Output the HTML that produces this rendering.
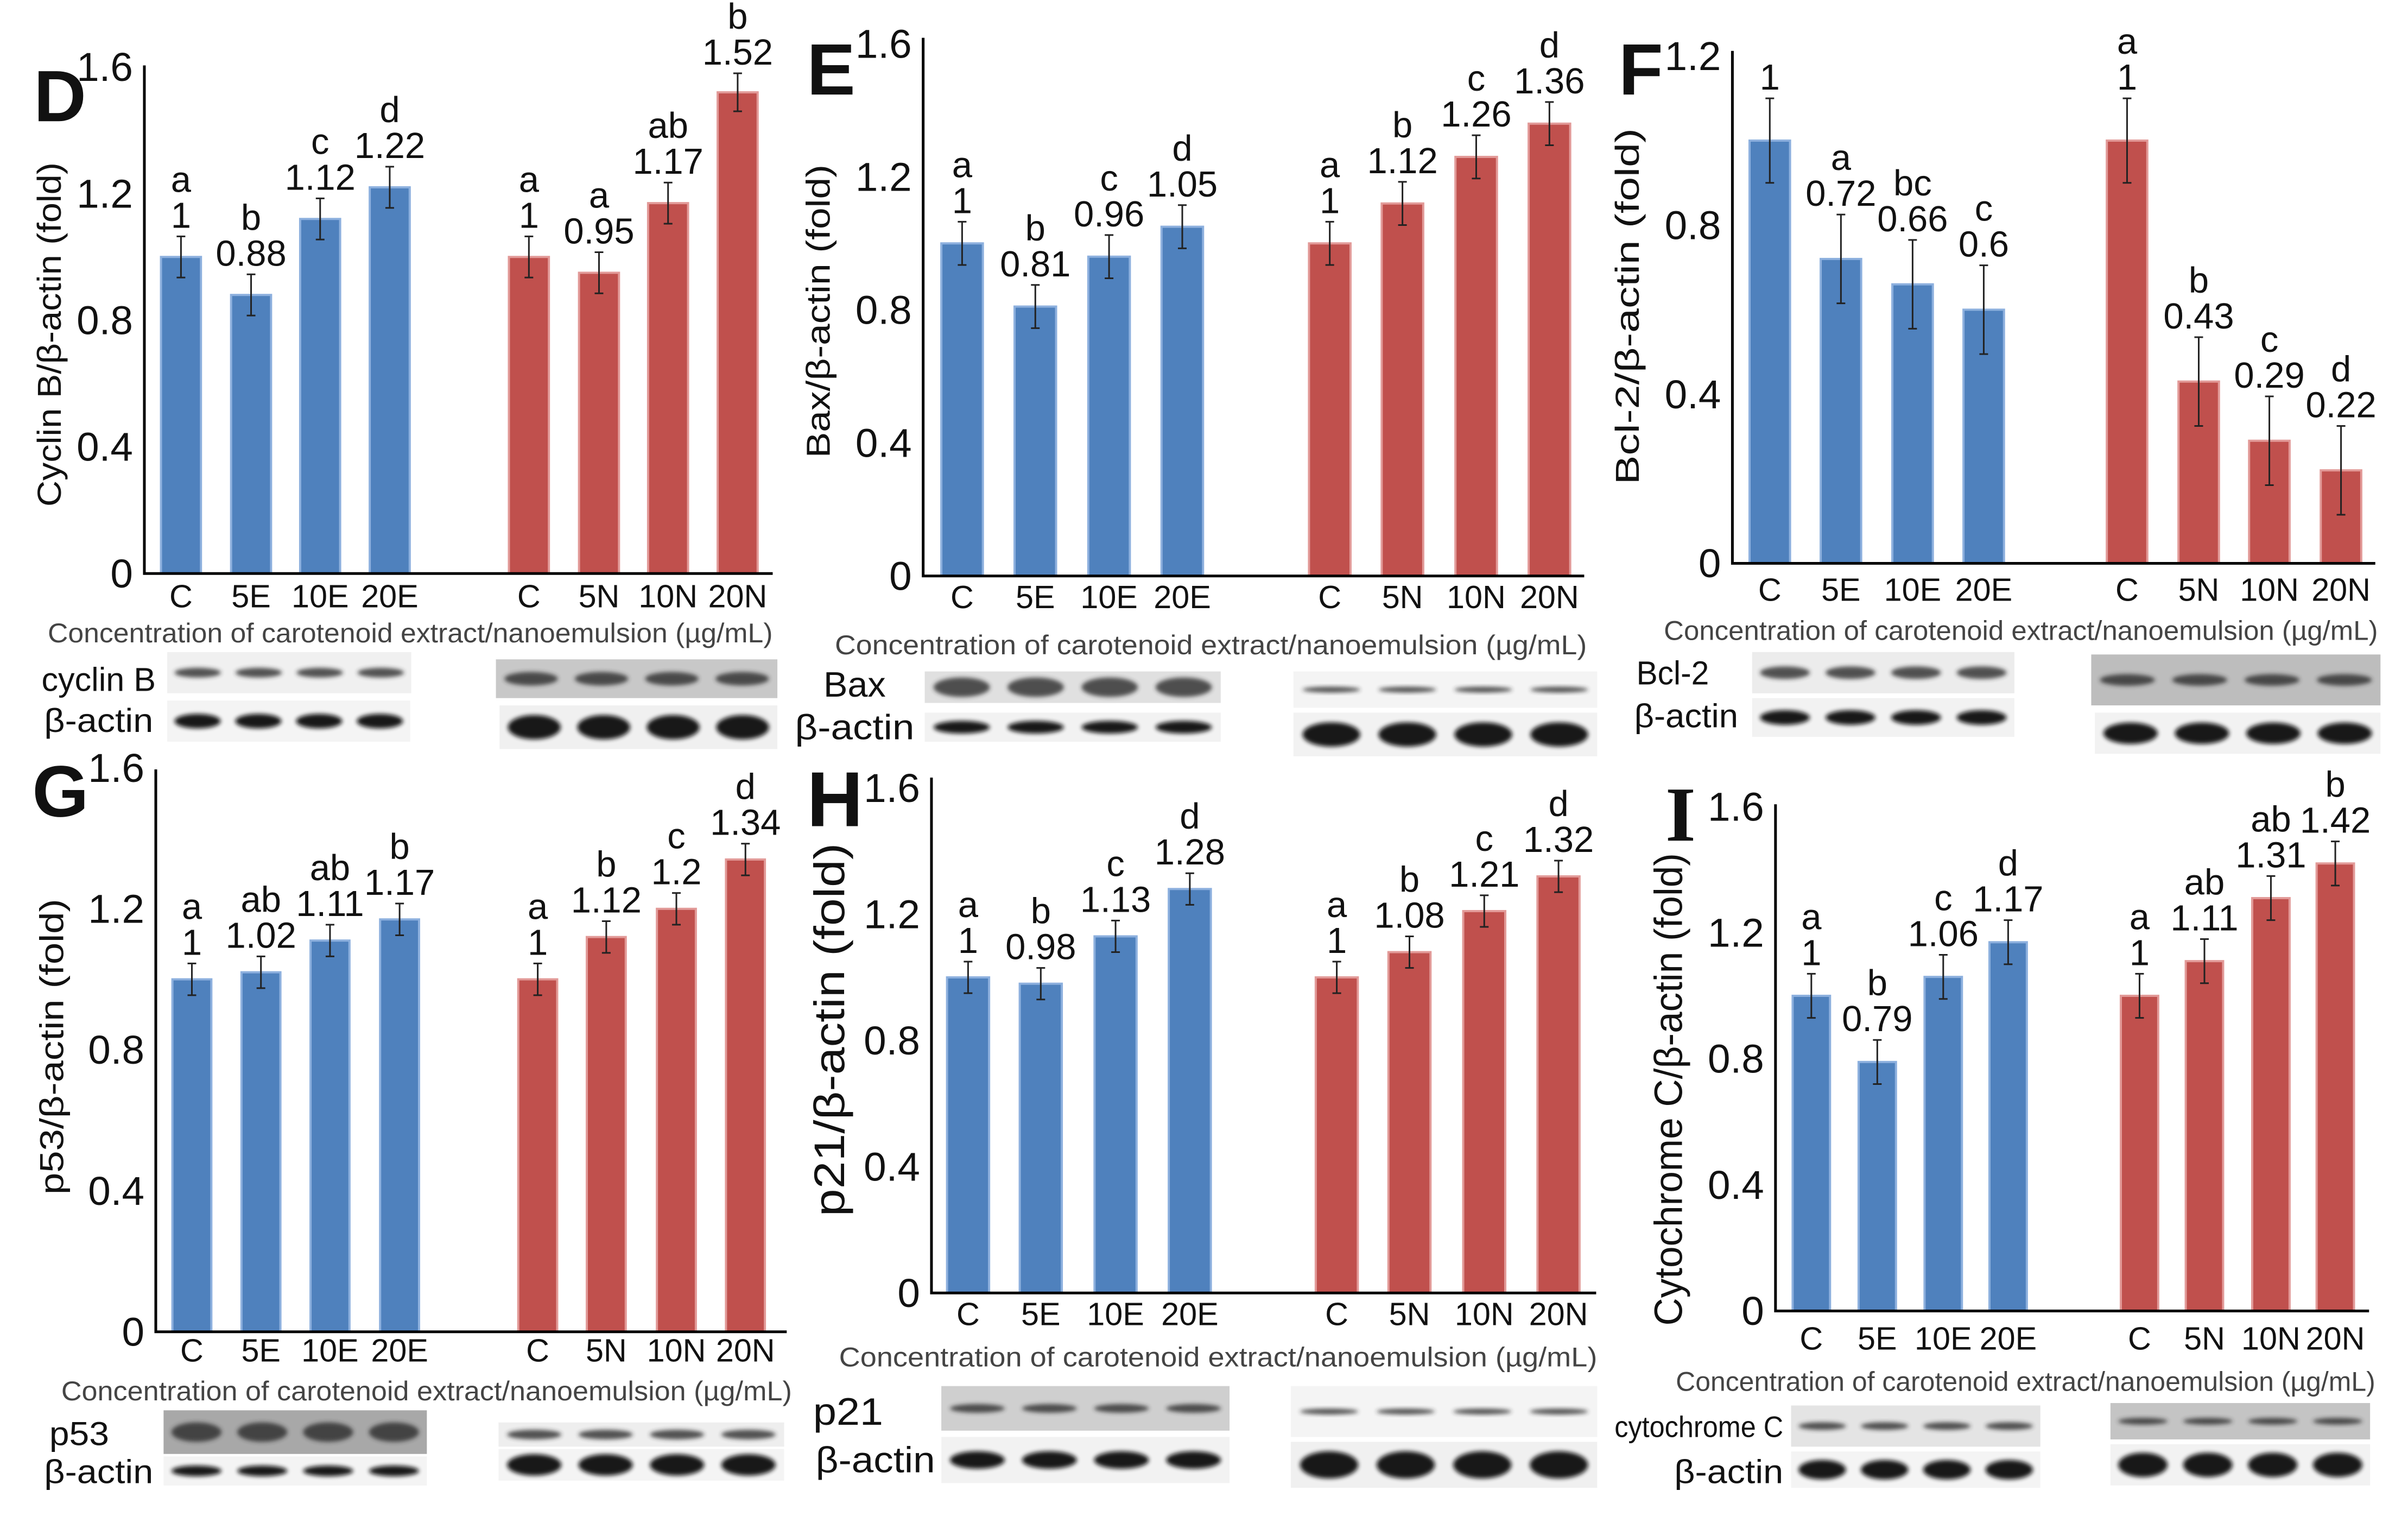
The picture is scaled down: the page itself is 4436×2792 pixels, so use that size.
<!DOCTYPE html>
<html><head><meta charset="utf-8"><style>
html,body{margin:0;padding:0;background:#fff;}
svg{display:block;}
text{font-family:"Liberation Sans",sans-serif;fill:#111;}
</style></head><body>
<svg id="fig" xmlns="http://www.w3.org/2000/svg" width="4436" height="2792" viewBox="0 0 4436 2792">
<defs><filter id="blur" x="-20%" y="-50%" width="140%" height="200%"><feGaussianBlur stdDeviation="4"/></filter></defs>
</svg>
<script>
// ---- data ----
const catsBlue = ['C','5E','10E','20E'];
const catsRed = ['C','5N','10N','20N'];
const D_blue = [1,0.88,1.12,1.22];
const D_red = [1,0.95,1.17,1.52];
const D_blueErr = [0.065,0.065,0.065,0.065];
const D_redErr = [0.065,0.065,0.065,0.06];
const D_blueLet = ['a','b','c','d'];
const D_redLet = ['a','a','ab','b'];
const E_blue = [1,0.81,0.96,1.05];
const E_red = [1,1.12,1.26,1.36];
const E_blueErr = [0.065,0.065,0.065,0.065];
const E_redErr = [0.065,0.065,0.065,0.065];
const E_blueLet = ['a','b','c','d'];
const E_redLet = ['a','b','c','d'];
const F_blue = [1,0.72,0.66,0.6];
const F_red = [1,0.43,0.29,0.22];
const F_blueErr = [0.1,0.105,0.105,0.105];
const F_redErr = [0.1,0.105,0.105,0.105];
const F_blueLet = ['','a','bc','c'];
const F_redLet = ['a','b','c','d'];
const G_blue = [1,1.02,1.11,1.17];
const G_red = [1,1.12,1.2,1.34];
const G_blueErr = [0.045,0.045,0.045,0.045];
const G_redErr = [0.045,0.045,0.045,0.045];
const G_blueLet = ['a','ab','ab','b'];
const G_redLet = ['a','b','c','d'];
const H_blue = [1,0.98,1.13,1.28];
const H_red = [1,1.08,1.21,1.32];
const H_blueErr = [0.05,0.05,0.05,0.05];
const H_redErr = [0.05,0.05,0.05,0.05];
const H_blueLet = ['a','b','c','d'];
const H_redLet = ['a','b','c','d'];
const I_blue = [1,0.79,1.06,1.17];
const I_red = [1,1.11,1.31,1.42];
const I_blueErr = [0.07,0.07,0.07,0.07];
const I_redErr = [0.07,0.07,0.07,0.07];
const I_blueLet = ['a','b','c','d'];
const I_redLet = ['a','ab','ab','b'];
const ticks16 = ['0','0.4','0.8','1.2','1.6'];
const ticks12 = ['0','0.4','0.8','1.2'];
const xTitle = 'Concentration of carotenoid extract/nanoemulsion (µg/mL)';

// ---- layout (not data) ----
const fx = 1500/1568, fy = 1400/1568;
const panels = [
 {id:'d',letter:'D',ox:0,oy:0,ax:278,zero:1183,unit:653,top:135,end:1488,ticks:ticks16,
  bL:[310,445,578,712],rL:[980,1115,1248,1382],bw:77,cy:1235,xt:[92,1488,1310],
  lx:[65,250,140,'bold'],yt:['Cyclin B/β-actin (fold)',100,690,710,64],
  vals:[D_blue,D_red,D_blueErr,D_redErr,D_blueLet,D_redLet],
  blot:{name:'cyclin B',nl:[80,1425,220,64],al:[85,1510,210,64],
   bt:[322,1345,792,1430,'#f0f0f0',10],ba:[322,1445,790,1530,'#f4f4f4',15],
   rt:[955,1360,1497,1440,'#c8c8c8',14],ra:[962,1455,1497,1545,'#f0f0f0',25]}},
 {id:'e',letter:'E',ox:1450,oy:0,ax:262,zero:1188,unit:686,top:78,end:1535,ticks:ticks16,
  bL:[297,438,580,721],rL:[1005,1145,1287,1428],bw:80,cy:1237,xt:[92,1540,1335],
  lx:[38,195,140,'bold'],yt:['Bax/β-actin (fold)',65,642,605,64],
  vals:[E_blue,E_red,E_blueErr,E_redErr,E_blueLet,E_redLet],
  blot:{name:'Bax',nl:[70,1437,120,68],al:[15,1525,230,68],
   bt:[265,1385,835,1450,'#e0e0e0',20],ba:[265,1470,835,1530,'#f2f2f2',13],
   rt:[975,1385,1560,1460,'#f4f4f4',6],ra:[975,1470,1560,1560,'#f2f2f2',25]}},
 {id:'f',letter:'F',ox:2936,oy:0,ax:267,zero:1162,unit:872,top:105,end:1505,ticks:ticks12,
  bL:[300,437,575,712],rL:[988,1126,1262,1400],bw:78,cy:1222,xt:[135,1510,1305],
  lx:[48,195,140,'bold'],yt:['Bcl-2/β-actin (fold)',70,632,735,64],
  vals:[F_blue,F_red,F_blueErr,F_redErr,F_blueLet,F_redLet],
  blot:{name:'Bcl-2',nl:[82,1412,140,64],al:[78,1500,200,64],
   bt:[305,1345,810,1430,'#ececec',13],ba:[305,1440,810,1520,'#f2f2f2',15],
   rt:[958,1350,1515,1455,'#bdbdbd',12],ra:[965,1470,1515,1555,'#f2f2f2',22]}},
 {id:'g',letter:'G',ox:0,oy:1392,ax:300,zero:1188,unit:727,top:28,end:1515,ticks:ticks16,
  bL:[332,465,598,732],rL:[998,1130,1265,1398],bw:75,cy:1232,xt:[118,1525,1315],
  lx:[62,125,140,'bold'],yt:['p53/β-actin (fold)',105,600,610,64],
  vals:[G_blue,G_red,G_blueErr,G_redErr,G_blueLet,G_redLet],
  blot:{name:'p53',nl:[95,1422,115,64],al:[85,1500,210,64],
   bt:[315,1350,822,1440,'#a8a8a8',20],ba:[315,1445,822,1505,'#f4f4f4',11],
   rt:[960,1375,1510,1425,'#eeeeee',10],ra:[960,1430,1510,1495,'#f4f4f4',22]}},
 {id:'h',letter:'H',ox:1450,oy:1392,ax:278,zero:1108,unit:651,top:45,end:1558,ticks:ticks16,
  bL:[308,448,592,735],rL:[1018,1158,1302,1445],bw:81,cy:1157,xt:[100,1560,1245],
  lx:[38,145,150,'bold'],yt:['p21/β-actin (fold)',88,565,770,82],
  vals:[H_blue,H_red,H_blueErr,H_redErr,H_blueLet,H_redLet],
  blot:{name:'p21',nl:[50,1380,135,74],al:[55,1478,230,70],
   bt:[297,1300,852,1392,'#cfcfcf',9],ba:[297,1405,852,1500,'#f2f2f2',18],
   rt:[970,1300,1560,1405,'#f4f4f4',6],ra:[970,1415,1560,1510,'#f0f0f0',28]}},
 {id:'i',letter:'I',ox:2936,oy:1392,ax:350,zero:1145,unit:650,top:100,end:1493,ticks:ticks16,
  bL:[383,510,637,762],rL:[1015,1140,1268,1392],bw:72,cy:1207,xt:[158,1505,1295],
  lx:[138,175,150,'serif'],yt:['Cytochrome C/β-actin (fold)',150,688,975,76],
  vals:[I_blue,I_red,I_blueErr,I_redErr,I_blueLet,I_redLet],
  blot:{name:'cytochrome C',nl:[40,1405,325,57],al:[155,1500,210,64],
   bt:[380,1340,860,1425,'#e4e4e4',8],ba:[380,1435,860,1510,'#f4f4f4',20],
   rt:[995,1335,1495,1410,'#c4c4c4',7],ra:[995,1420,1495,1505,'#f2f2f2',25]}}
];

const NS='http://www.w3.org/2000/svg';
const svg=document.getElementById('fig');
function mk(tag,attrs,parent){const e=document.createElementNS(NS,tag);for(const k in attrs)e.setAttribute(k,attrs[k]);parent.appendChild(e);return e;}
const X=v=>v*fx, Y=v=>v*fy, FS=v=>v*fx;

panels.forEach(p=>{
  const g=mk('g',{transform:`translate(${p.ox},${p.oy})`},svg);
  
  
  const yOf=v=>Y(p.zero-v*p.unit);
  const L=mk('text',{x:X(p.lx[0]),y:Y(p.lx[1]),'font-size':FS(p.lx[2]),'font-weight':'bold'},g);
  if(p.lx[3]==='serif')L.setAttribute('style','font-family:"Liberation Serif",serif');
  L.textContent=p.letter;
  
  
  const yt=mk('text',{x:0,y:0,'font-size':FS(p.yt[4]),'text-anchor':'middle','dominant-baseline':'middle',textLength:Y(p.yt[3]),lengthAdjust:'spacingAndGlyphs',transform:`translate(${X(p.yt[1])},${Y(p.yt[2])}) rotate(-90)`},g);
  yt.textContent=p.yt[0];
  
  
  const [bv,rv,be,re,bl,rl]=p.vals;
  const groups=[[bv,be,bl,p.bL,'#4f81bd','#8db0de',catsBlue,'extract'],[rv,re,rl,p.rL,'#c0504d','#e29a98',catsRed,'nano']];
  groups.forEach(([vals,errs,lets,lefts,col,edge,cats,nm])=>{
    vals.forEach((v,i)=>{
      const x=X(lefts[i]),w=X(p.bw),y=yOf(v),cx=x+w/2,z=yOf(0);
      const r=mk('rect',{x:x,y:y,width:w,height:z-y,fill:col,stroke:edge,'stroke-width':4},g);
      
      
      const et=yOf(v+errs[i]),eb=yOf(v-errs[i]);
      const eg=mk('g',{stroke:'#222','stroke-width':3},g);
      
      
      mk('line',{x1:cx,x2:cx,y1:et,y2:eb},eg);
      mk('line',{x1:cx-8,x2:cx+8,y1:et,y2:et},eg);
      mk('line',{x1:cx-8,x2:cx+8,y1:eb,y2:eb},eg);
      const vt=mk('text',{x:cx,y:et-16,'font-size':FS(70),'text-anchor':'middle'},g);
      vt.textContent=String(v);
      
      
      if(lets[i]){
        const lt=mk('text',{x:cx,y:et-82,'font-size':FS(70),'text-anchor':'middle'},g);
        lt.textContent=lets[i];
        
        
      }
      const ct=mk('text',{x:cx,y:Y(p.cy),'font-size':FS(62),'text-anchor':'middle','dominant-baseline':'middle'},g);
      ct.textContent=cats[i];
      
      
    });
  });
  const ax=mk('path',{d:`M${X(p.ax)},${Y(p.top)} V${yOf(0)} H${X(p.end)}`,fill:'none',stroke:'#000','stroke-width':5},g);
  
  
  p.ticks.forEach(t=>{
    const tt=mk('text',{x:X(p.ax-22),y:yOf(parseFloat(t))+6,'font-size':FS(78),'text-anchor':'end','dominant-baseline':'middle'},g);
    tt.textContent=t;
    
    
  });
  const xt=mk('text',{x:X(p.xt[0]),y:Y(p.xt[2]),'font-size':FS(52),textLength:X(p.xt[1]-p.xt[0]),lengthAdjust:'spacingAndGlyphs','dominant-baseline':'middle',style:'fill:#444'},g);
  xt.textContent=xTitle;
  
  
  const b=p.blot;
  [['bt',false],['ba',true],['rt',false],['ra',true]].forEach(([k,act])=>{
    const [x1,y1,x2,y2,bg,ry]=b[k];
    const bg_=mk('g',{},g);
    
    
    mk('rect',{x:X(x1),y:Y(y1),width:X(x2-x1),height:Y(y2-y1),fill:bg},bg_);
    const lw=X(x2-x1)/4;
    for(let i=0;i<4;i++){
      mk('ellipse',{cx:X(x1)+lw*(i+0.5),cy:Y((y1+y2)/2),rx:lw*0.38,ry:Y(ry),fill:act?'#0a0a0a':'#2a2a2a',opacity:act?0.95:0.8,filter:'url(#blur)'},bg_);
    }
  });
  const nl=mk('text',{x:X(b.nl[0]),y:Y(b.nl[1]),'font-size':FS(b.nl[3]),textLength:X(b.nl[2]),lengthAdjust:'spacingAndGlyphs'},g);
  nl.textContent=b.name;
  
  
  const al=mk('text',{x:X(b.al[0]),y:Y(b.al[1]),'font-size':FS(b.al[3]),textLength:X(b.al[2]),lengthAdjust:'spacingAndGlyphs'},g);
  al.textContent='β-actin';
  
  
});
</script>
</body></html>
